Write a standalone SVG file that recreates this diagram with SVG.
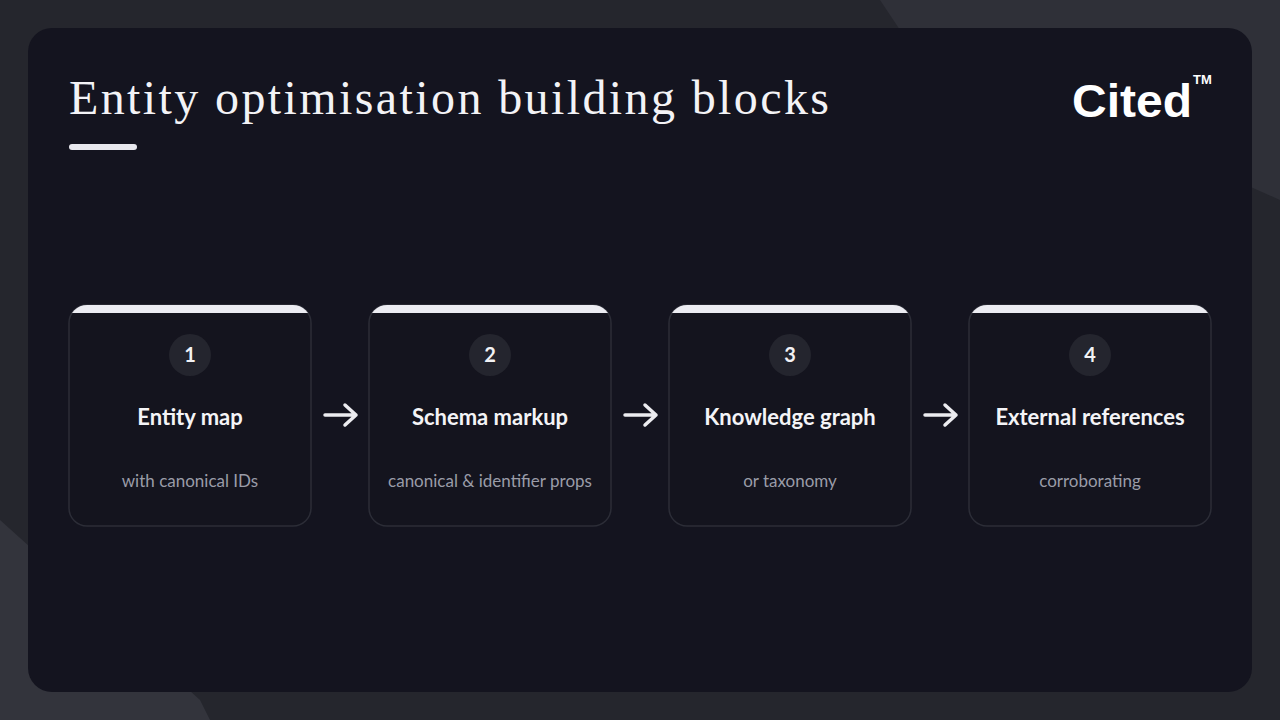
<svg xmlns="http://www.w3.org/2000/svg" width="1280" height="720" viewBox="0 0 1280 720">
<defs>
<style>
.card{fill:#14141e;stroke:#2c2d37;stroke-width:1.5}
.num{font-family:"Lato","Noto Sans",sans-serif;font-weight:700;font-size:20px;fill:#f2f2f5;text-anchor:middle}
.ttl{font-family:"Lato","Noto Sans",sans-serif;font-weight:700;font-size:22px;fill:#f4f4f7;text-anchor:middle}
.sub{font-family:"Lato","Noto Sans",sans-serif;font-size:17px;fill:#9a9ca8;text-anchor:middle}
.arr{stroke:#ececf0;stroke-width:3.5;fill:none;stroke-linecap:round;stroke-linejoin:round}
</style>
<clipPath id="c1"><rect x="69" y="305" width="242" height="221" rx="18"/></clipPath>
<clipPath id="c2"><rect x="369" y="305" width="242" height="221" rx="18"/></clipPath>
<clipPath id="c3"><rect x="669" y="305" width="242" height="221" rx="18"/></clipPath>
<clipPath id="c4"><rect x="969" y="305" width="242" height="221" rx="18"/></clipPath>
</defs>
<rect width="1280" height="720" fill="#25262d"/>
<path d="M880 0 L1280 0 L1280 200 L900 30 Z" fill="#2f3038"/>
<path d="M0 520 L200 700 L210 720 L0 720 Z" fill="#33343c"/>
<rect x="28" y="28" width="1224" height="664" rx="24" fill="#14141f"/>
<text x="69" y="114" font-family="Liberation Serif,serif" font-size="48" fill="#f3f3f6" textLength="760" lengthAdjust="spacing">Entity optimisation building blocks</text>
<rect x="69" y="144" width="68" height="6" rx="3" fill="#e8e8ee"/>
<text x="1072" y="117" font-family="Liberation Sans,Arial,sans-serif" font-weight="700" font-size="46" fill="#ffffff" textLength="120" lengthAdjust="spacingAndGlyphs">Cited</text>
<text x="1193" y="84" font-family="Liberation Sans,Arial,sans-serif" font-weight="700" font-size="13" fill="#ffffff">TM</text>
<g id="node1"><rect class="card" x="69" y="305" width="242" height="221" rx="18"/><rect x="69" y="305" width="242" height="8" fill="#ececf2" clip-path="url(#c1)"/><circle cx="190" cy="355" r="21" fill="#24252e"/><text class="num" x="190" y="362">1</text><text class="ttl" x="190" y="425">Entity map</text><text class="sub" x="190" y="487">with canonical IDs</text></g>
<g id="node2"><rect class="card" x="369" y="305" width="242" height="221" rx="18"/><rect x="369" y="305" width="242" height="8" fill="#ececf2" clip-path="url(#c2)"/><circle cx="490" cy="355" r="21" fill="#24252e"/><text class="num" x="490" y="362">2</text><text class="ttl" x="490" y="425">Schema markup</text><text class="sub" x="490" y="487">canonical &amp; identifier props</text></g>
<g id="node3"><rect class="card" x="669" y="305" width="242" height="221" rx="18"/><rect x="669" y="305" width="242" height="8" fill="#ececf2" clip-path="url(#c3)"/><circle cx="790" cy="355" r="21" fill="#24252e"/><text class="num" x="790" y="362">3</text><text class="ttl" x="790" y="425">Knowledge graph</text><text class="sub" x="790" y="487">or taxonomy</text></g>
<g id="node4"><rect class="card" x="969" y="305" width="242" height="221" rx="18"/><rect x="969" y="305" width="242" height="8" fill="#ececf2" clip-path="url(#c4)"/><circle cx="1090" cy="355" r="21" fill="#24252e"/><text class="num" x="1090" y="362">4</text><text class="ttl" x="1090" y="425">External references</text><text class="sub" x="1090" y="487">corroborating</text></g>
<g id="connectors">
<path class="arr" d="M325 415 H356 M345 405 L356 415 L345 425"/>
<path class="arr" d="M625 415 H656 M645 405 L656 415 L645 425"/>
<path class="arr" d="M925 415 H956 M945 405 L956 415 L945 425"/>
</g>
</svg>
